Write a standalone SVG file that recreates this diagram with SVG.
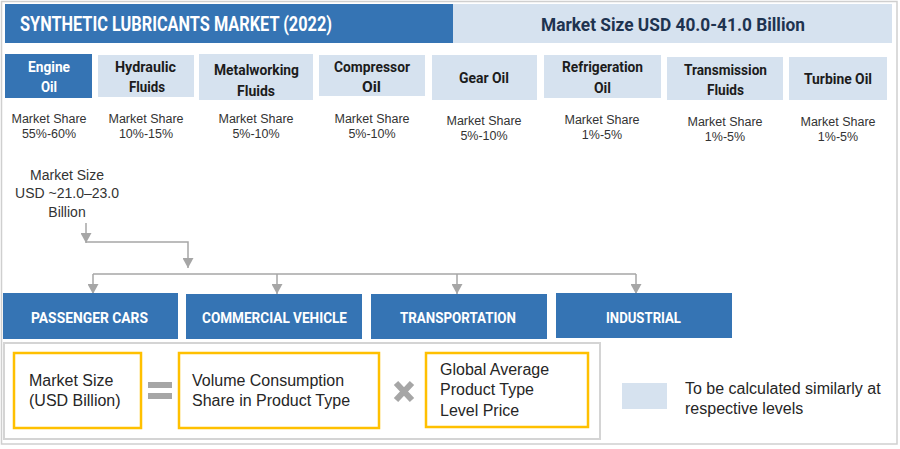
<svg xmlns="http://www.w3.org/2000/svg" width="900" height="449" viewBox="0 0 900 449">
<style>
.dk{fill:#3574b4}
.lt{fill:#d6e2ef}
.hd{font-family:Roboto,"Liberation Sans",sans-serif;font-weight:bold}
.w{fill:#ffffff}
.nv{fill:#1e3350}
.pl{fill:#1c1c1c}
.ms{font-family:"Liberation Sans",Arial,sans-serif;font-size:12.5px;fill:#333333;text-anchor:middle}
.tx{font-family:"Liberation Sans",Arial,sans-serif;font-size:16px;fill:#262626}
.yb{fill:#ffffff;stroke:#ffc000;stroke-width:2.5}
.cn{fill:none;stroke:#a6a6a6;stroke-width:1.5}
</style>
<defs>
<marker id="ah" markerUnits="userSpaceOnUse" markerWidth="11" markerHeight="11" refX="10" refY="5.5" orient="auto" viewBox="0 0 10 11">
<path d="M0,0 L10,5.5 L0,11 z" fill="#a6a6a6"/>
</marker>
</defs>
<rect width="900" height="449" fill="#ffffff"/>
<rect x="1.5" y="1.5" width="895.5" height="442.5" fill="none" stroke="#cfcfcf" stroke-width="1.5"/>

<g id="title">
<rect class="dk" x="5" y="4" width="448" height="39"/>
<text class="hd w" x="20" y="31" font-size="19.5" textLength="312" lengthAdjust="spacingAndGlyphs">SYNTHETIC LUBRICANTS MARKET (2022)</text>
</g>
<g id="market-size">
<rect class="lt" x="453" y="4" width="439" height="39"/>
<text class="hd nv" x="541" y="31" font-size="19" textLength="264" lengthAdjust="spacingAndGlyphs">Market Size USD 40.0-41.0 Billion</text>
</g>

<g id="engine-oil">
<rect class="dk" x="5" y="54" width="87" height="44"/>
<text class="hd w" x="28" y="72" font-size="15.5" textLength="42" lengthAdjust="spacingAndGlyphs">Engine</text>
<text class="hd w" x="41" y="92" font-size="15.5" textLength="16" lengthAdjust="spacingAndGlyphs">Oil</text>
<text class="ms" x="49" y="123">Market Share</text>
<text class="ms" x="49" y="138">55%-60%</text>
</g>
<g id="hydraulic-fluids">
<rect class="lt" x="98" y="55" width="96" height="42"/>
<text class="hd pl" x="115" y="72" font-size="15.5" textLength="61" lengthAdjust="spacingAndGlyphs">Hydraulic</text>
<text class="hd pl" x="129" y="92" font-size="15.5" textLength="36" lengthAdjust="spacingAndGlyphs">Fluids</text>
<text class="ms" x="146" y="123">Market Share</text>
<text class="ms" x="146" y="138">10%-15%</text>
</g>
<g id="metalworking-fluids">
<rect class="lt" x="199" y="54" width="114" height="46"/>
<text class="hd pl" x="214" y="75" font-size="15.5" textLength="85" lengthAdjust="spacingAndGlyphs">Metalworking</text>
<text class="hd pl" x="237" y="96" font-size="15.5" textLength="38" lengthAdjust="spacingAndGlyphs">Fluids</text>
<text class="ms" x="256" y="123">Market Share</text>
<text class="ms" x="256" y="138">5%-10%</text>
</g>
<g id="compressor-oil">
<rect class="lt" x="319" y="55" width="106" height="41"/>
<text class="hd pl" x="334" y="72" font-size="15.5" textLength="76" lengthAdjust="spacingAndGlyphs">Compressor</text>
<text class="hd pl" x="362" y="92" font-size="15.5" textLength="19" lengthAdjust="spacingAndGlyphs">Oil</text>
<text class="ms" x="372" y="123">Market Share</text>
<text class="ms" x="372" y="138">5%-10%</text>
</g>
<g id="gear-oil">
<rect class="lt" x="432" y="55" width="105" height="45"/>
<text class="hd pl" x="459" y="83" font-size="15.5" textLength="50" lengthAdjust="spacingAndGlyphs">Gear Oil</text>
<text class="ms" x="484" y="125">Market Share</text>
<text class="ms" x="484" y="140">5%-10%</text>
</g>
<g id="refrigeration-oil">
<rect class="lt" x="544" y="55" width="117" height="43"/>
<text class="hd pl" x="562" y="72" font-size="15.5" textLength="81" lengthAdjust="spacingAndGlyphs">Refrigeration</text>
<text class="hd pl" x="594" y="93" font-size="15.5" textLength="17" lengthAdjust="spacingAndGlyphs">Oil</text>
<text class="ms" x="602" y="124">Market Share</text>
<text class="ms" x="602" y="139">1%-5%</text>
</g>
<g id="transmission-fluids">
<rect class="lt" x="667" y="57" width="116" height="43"/>
<text class="hd pl" x="684" y="75" font-size="15.5" textLength="83" lengthAdjust="spacingAndGlyphs">Transmission</text>
<text class="hd pl" x="707" y="95" font-size="15.5" textLength="37" lengthAdjust="spacingAndGlyphs">Fluids</text>
<text class="ms" x="725" y="126">Market Share</text>
<text class="ms" x="725" y="141">1%-5%</text>
</g>
<g id="turbine-oil">
<rect class="lt" x="789" y="57" width="98" height="43"/>
<text class="hd pl" x="804" y="84" font-size="15.5" textLength="68" lengthAdjust="spacingAndGlyphs">Turbine Oil</text>
<text class="ms" x="838" y="126">Market Share</text>
<text class="ms" x="838" y="141">1%-5%</text>
</g>

<g id="engine-oil-size">
<text class="ms" style="font-size:14px" x="67" y="180">Market Size</text>
<text class="ms" style="font-size:14px" x="67" y="198">USD ~21.0–23.0</text>
<text class="ms" style="font-size:14px" x="67" y="217">Billion</text>
</g>

<g id="connectors">
<path class="cn" d="M86 223 V243" marker-end="url(#ah)"/>
<path class="cn" d="M86 242 H188 V268" marker-end="url(#ah)"/>
<path class="cn" d="M93 274 H636"/>
<path class="cn" d="M93 274 V294" marker-end="url(#ah)"/>
<path class="cn" d="M277 274 V294" marker-end="url(#ah)"/>
<path class="cn" d="M457 274 V294" marker-end="url(#ah)"/>
<path class="cn" d="M636 274 V294" marker-end="url(#ah)"/>
</g>

<g id="passenger-cars">
<rect class="dk" x="3" y="293" width="175" height="46"/>
<text class="hd w" x="31" y="323" font-size="15.5" textLength="117" lengthAdjust="spacingAndGlyphs">PASSENGER CARS</text>
</g>
<g id="commercial-vehicle">
<rect class="dk" x="186" y="294" width="176" height="45"/>
<text class="hd w" x="202" y="323" font-size="15.5" textLength="145" lengthAdjust="spacingAndGlyphs">COMMERCIAL VEHICLE</text>
</g>
<g id="transportation">
<rect class="dk" x="371" y="294" width="176" height="45"/>
<text class="hd w" x="400" y="323" font-size="15.5" textLength="116" lengthAdjust="spacingAndGlyphs">TRANSPORTATION</text>
</g>
<g id="industrial">
<rect class="dk" x="556" y="293" width="176" height="45"/>
<text class="hd w" x="606" y="323" font-size="15.5" textLength="75" lengthAdjust="spacingAndGlyphs">INDUSTRIAL</text>
</g>

<g id="formula">
<rect x="4" y="343" width="596" height="96" fill="#ffffff" stroke="#d4d4d4" stroke-width="2"/>
<g id="formula-market-size">
<rect class="yb" x="14" y="353" width="127" height="75"/>
<text class="tx" x="29" y="386">Market Size</text>
<text class="tx" x="29" y="406">(USD Billion)</text>
</g>
<g id="equals" fill="#a6a6a6">
<rect x="148" y="382" width="24" height="6"/>
<rect x="148" y="393" width="24" height="6"/>
</g>
<g id="formula-volume">
<rect class="yb" x="179" y="353" width="200" height="75"/>
<text class="tx" x="192" y="386">Volume Consumption</text>
<text class="tx" x="192" y="406">Share in Product Type</text>
</g>
<g id="times">
<path d="M396 383 L412 400 M412 383 L396 400" stroke="#a6a6a6" stroke-width="6" fill="none"/>
</g>
<g id="formula-price">
<rect class="yb" x="426" y="353" width="162" height="74"/>
<text class="tx" x="440" y="375">Global Average</text>
<text class="tx" x="440" y="395">Product Type</text>
<text class="tx" x="440" y="416">Level Price</text>
</g>
</g>

<g id="legend">
<rect class="lt" x="622" y="383" width="45" height="26"/>
<text class="tx" x="685" y="394">To be calculated similarly at</text>
<text class="tx" x="685" y="414">respective levels</text>
</g>
</svg>
